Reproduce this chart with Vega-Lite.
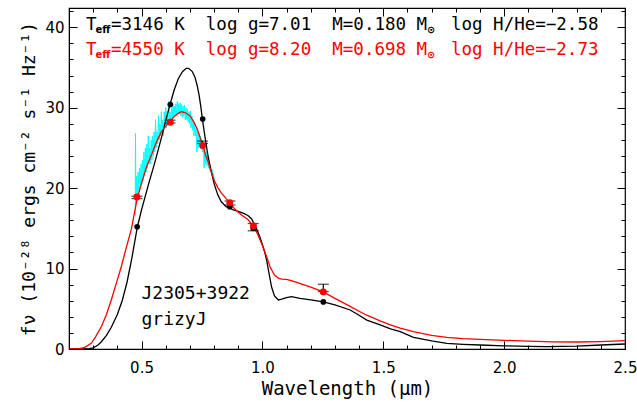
{
  "$schema": "https://vega.github.io/schema/vega-lite/v6.json",
  "width": 556,
  "height": 341,
  "autosize": {"type": "none"},
  "padding": {"left": 69, "top": 8, "right": 12, "bottom": 53},
  "background": "white",
  "config": {
    "view": {"stroke": "black", "strokeWidth": 1.2},
    "axis": {"grid": false, "domainColor": "black", "tickColor": "black", "labelColor": "black", "titleColor": "black", "labelFont": "DejaVu Sans", "titleFont": "DejaVu Sans Mono", "labelFontSize": 14, "titleFontSize": 18, "titleFontWeight": "normal"}
  },
  "datasets": {
    "spec": [
      {"w":0.474,"f":16.6},{"w":0.475,"f":26.8},{"w":0.477,"f":18.0},{"w":0.480,"f":21.5},{"w":0.483,"f":18.5},{"w":0.486,"f":22.0},{"w":0.489,"f":19.5},{"w":0.492,"f":22.5},{"w":0.495,"f":20.0},{"w":0.498,"f":23.0},
      {"w":0.501,"f":20.5},{"w":0.504,"f":23.5},{"w":0.507,"f":21.0},{"w":0.510,"f":24.5},{"w":0.513,"f":21.5},{"w":0.516,"f":25.0},{"w":0.519,"f":22.0},{"w":0.522,"f":25.5},{"w":0.525,"f":22.5},{"w":0.528,"f":26.5},
      {"w":0.531,"f":23.0},{"w":0.534,"f":25.0},{"w":0.537,"f":23.0},{"w":0.540,"f":26.0},{"w":0.543,"f":23.5},{"w":0.546,"f":26.5},{"w":0.549,"f":24.0},{"w":0.552,"f":27.0},{"w":0.555,"f":24.5},{"w":0.558,"f":28.5},
      {"w":0.561,"f":25.0},{"w":0.564,"f":27.0},{"w":0.567,"f":25.5},{"w":0.570,"f":29.0},{"w":0.573,"f":26.0},{"w":0.576,"f":28.0},{"w":0.579,"f":26.5},{"w":0.582,"f":29.5},{"w":0.585,"f":27.0},{"w":0.588,"f":28.5},
      {"w":0.591,"f":26.5},{"w":0.594,"f":29.5},{"w":0.597,"f":27.5},{"w":0.600,"f":30.0},{"w":0.603,"f":27.5},{"w":0.606,"f":29.5},{"w":0.609,"f":28.0},{"w":0.612,"f":30.8},{"w":0.615,"f":28.5},{"w":0.618,"f":29.5},
      {"w":0.621,"f":28.0},{"w":0.624,"f":30.0},{"w":0.627,"f":28.5},{"w":0.630,"f":30.5},{"w":0.633,"f":29.0},{"w":0.636,"f":30.2},{"w":0.639,"f":29.0},{"w":0.642,"f":30.5},{"w":0.645,"f":29.0},{"w":0.648,"f":30.8},
      {"w":0.651,"f":29.3},{"w":0.654,"f":30.5},{"w":0.657,"f":29.2},{"w":0.660,"f":30.6},{"w":0.663,"f":29.0},{"w":0.666,"f":30.4},{"w":0.669,"f":28.8},{"w":0.672,"f":30.2},{"w":0.675,"f":29.0},{"w":0.678,"f":30.3},
      {"w":0.681,"f":28.5},{"w":0.684,"f":30.0},{"w":0.687,"f":28.6},{"w":0.690,"f":29.8},{"w":0.693,"f":28.2},{"w":0.696,"f":29.5},{"w":0.699,"f":28.0},{"w":0.702,"f":29.6},{"w":0.705,"f":27.5},{"w":0.708,"f":29.0},
      {"w":0.711,"f":27.2},{"w":0.714,"f":28.5},{"w":0.717,"f":26.5},{"w":0.720,"f":28.0},{"w":0.723,"f":26.5},{"w":0.726,"f":27.5},{"w":0.729,"f":24.5},{"w":0.732,"f":27.0},{"w":0.735,"f":25.0},{"w":0.738,"f":26.8},
      {"w":0.741,"f":25.2},{"w":0.744,"f":26.5},{"w":0.747,"f":24.8},{"w":0.750,"f":26.0},{"w":0.753,"f":24.5},{"w":0.756,"f":25.5},{"w":0.759,"f":22.5},{"w":0.762,"f":25.0},{"w":0.765,"f":23.0},{"w":0.768,"f":24.5},
      {"w":0.771,"f":22.8},{"w":0.774,"f":24.0},{"w":0.777,"f":22.5},{"w":0.780,"f":23.3},{"w":0.783,"f":22.2},{"w":0.786,"f":22.8},{"w":0.789,"f":21.8},{"w":0.792,"f":22.3},{"w":0.795,"f":21.5},{"w":0.798,"f":21.8},
      {"w":0.801,"f":21.0},{"w":0.804,"f":21.2}
    ],
    "black": [
      {"w":0.20,"f":0},{"w":0.25,"f":0},{"w":0.28,"f":0.02},{"w":0.30,"f":0.15},{"w":0.32,"f":0.5},{"w":0.334,"f":0.9},{"w":0.355,"f":1.7},{"w":0.375,"f":2.7},{"w":0.40,"f":4.3},{"w":0.42,"f":6.0},
      {"w":0.44,"f":8.3},{"w":0.46,"f":11.3},{"w":0.483,"f":15.2},{"w":0.50,"f":17.3},{"w":0.53,"f":20.6},{"w":0.556,"f":23.3},{"w":0.58,"f":26.0},{"w":0.60,"f":28.4},{"w":0.618,"f":30.4},{"w":0.635,"f":32.2},
      {"w":0.652,"f":33.6},{"w":0.67,"f":34.5},{"w":0.685,"f":34.9},{"w":0.695,"f":34.9},{"w":0.71,"f":34.5},{"w":0.721,"f":33.8},{"w":0.73,"f":32.8},{"w":0.738,"f":31.6},{"w":0.745,"f":30.2},{"w":0.751,"f":28.8},
      {"w":0.757,"f":27.5},{"w":0.763,"f":26.3},{"w":0.775,"f":24.0},{"w":0.789,"f":22.0},{"w":0.80,"f":20.6},{"w":0.815,"f":19.2},{"w":0.83,"f":18.3},{"w":0.85,"f":17.7},{"w":0.865,"f":17.5},{"w":0.88,"f":17.3},
      {"w":0.90,"f":17.1},{"w":0.92,"f":16.9},{"w":0.94,"f":16.6},{"w":0.955,"f":16.2},{"w":0.965,"f":15.6},{"w":0.975,"f":15.0},{"w":0.99,"f":13.9},{"w":1.00,"f":13.0},{"w":1.01,"f":12.0},{"w":1.018,"f":11.0},
      {"w":1.028,"f":9.3},{"w":1.038,"f":7.7},{"w":1.05,"f":6.6},{"w":1.066,"f":6.1},{"w":1.08,"f":6.2},{"w":1.10,"f":6.4},{"w":1.12,"f":6.5},{"w":1.156,"f":6.3},{"w":1.20,"f":6.1},{"w":1.252,"f":5.85},
      {"w":1.30,"f":5.5},{"w":1.363,"f":4.85},{"w":1.40,"f":4.2},{"w":1.432,"f":3.6},{"w":1.487,"f":3.0},{"w":1.53,"f":2.5},{"w":1.57,"f":2.15},{"w":1.625,"f":1.45},{"w":1.70,"f":1.0},{"w":1.763,"f":0.7},
      {"w":1.83,"f":0.58},{"w":1.90,"f":0.5},{"w":2.0,"f":0.4},{"w":2.1,"f":0.32},{"w":2.176,"f":0.29},{"w":2.3,"f":0.35},{"w":2.4,"f":0.5},{"w":2.5,"f":0.62}
    ],
    "red": [
      {"w":0.20,"f":0},{"w":0.24,"f":0},{"w":0.265,"f":0.2},{"w":0.292,"f":0.7},{"w":0.31,"f":1.5},{"w":0.334,"f":2.8},{"w":0.355,"f":4.3},{"w":0.375,"f":6.1},{"w":0.395,"f":8.1},{"w":0.416,"f":10.2},
      {"w":0.437,"f":12.6},{"w":0.458,"f":14.9},{"w":0.482,"f":18.7},{"w":0.50,"f":20.6},{"w":0.52,"f":22.6},{"w":0.542,"f":24.2},{"w":0.56,"f":25.6},{"w":0.58,"f":26.9},{"w":0.60,"f":27.7},{"w":0.618,"f":28.3},
      {"w":0.635,"f":28.9},{"w":0.652,"f":29.3},{"w":0.665,"f":29.5},{"w":0.68,"f":29.4},{"w":0.70,"f":29.0},{"w":0.715,"f":28.3},{"w":0.73,"f":27.4},{"w":0.74,"f":26.5},{"w":0.753,"f":25.4},{"w":0.765,"f":24.1},
      {"w":0.775,"f":23.3},{"w":0.789,"f":22.0},{"w":0.80,"f":21.0},{"w":0.815,"f":20.1},{"w":0.83,"f":19.4},{"w":0.85,"f":18.7},{"w":0.866,"f":18.2},{"w":0.88,"f":17.6},{"w":0.90,"f":17.0},{"w":0.921,"f":16.5},
      {"w":0.94,"f":16.1},{"w":0.962,"f":15.3},{"w":0.98,"f":14.3},{"w":0.997,"f":13.1},{"w":1.015,"f":11.7},{"w":1.032,"f":10.2},{"w":1.05,"f":9.2},{"w":1.066,"f":8.8},{"w":1.08,"f":8.7},{"w":1.10,"f":8.65},
      {"w":1.13,"f":8.4},{"w":1.16,"f":8.1},{"w":1.20,"f":7.7},{"w":1.252,"f":7.1},{"w":1.30,"f":6.3},{"w":1.363,"f":5.3},{"w":1.40,"f":4.7},{"w":1.432,"f":4.2},{"w":1.487,"f":3.5},{"w":1.53,"f":3.0},
      {"w":1.57,"f":2.6},{"w":1.625,"f":2.15},{"w":1.70,"f":1.7},{"w":1.763,"f":1.45},{"w":1.83,"f":1.3},{"w":1.90,"f":1.2},{"w":2.0,"f":1.08},{"w":2.1,"f":0.97},{"w":2.2,"f":0.88},{"w":2.3,"f":0.87},
      {"w":2.4,"f":0.92},{"w":2.5,"f":1.03}
    ],
    "obs": [
      {"w":0.481,"lo":18.7,"hi":19.0},
      {"w":0.618,"lo":28.1,"hi":28.45},
      {"w":0.752,"lo":25.55,"hi":25.85},
      {"w":0.866,"lo":17.9,"hi":18.4},
      {"w":0.962,"lo":14.7,"hi":15.6},
      {"w":1.252,"lo":7.15,"hi":8.05}
    ],
    "synthBlack": [
      {"w":0.482,"f":15.2},{"w":0.619,"f":30.4},{"w":0.753,"f":28.6},{"w":0.865,"f":17.7},{"w":0.962,"f":15.0},{"w":1.252,"f":5.85}
    ],
    "synthRed": [
      {"w":0.481,"f":18.9},{"w":0.619,"f":28.2},{"w":0.753,"f":25.3},{"w":0.865,"f":18.2},{"w":0.963,"f":15.3},{"w":1.252,"f":7.1}
    ],
    "notes": [
      {"w":0.2703,"f":40.3,"t":"T","g":"kMain"},
      {"w":0.3096,"f":40.3,"t":"eff","g":"kSub"},
      {"w":0.3738,"f":40.3,"t":"=3146 K\u00a0\u00a0log g=7.01\u00a0\u00a0M=0.180 M","g":"kMain"},
      {"w":1.681,"f":40.3,"t":"⊙","g":"kSub"},
      {"w":1.780,"f":40.3,"t":"log H/He=−2.58","g":"kMain"},
      {"w":0.2703,"f":37.2,"t":"T","g":"rMain"},
      {"w":0.3096,"f":37.2,"t":"eff","g":"rSub"},
      {"w":0.3738,"f":37.2,"t":"=4550 K\u00a0\u00a0log g=8.20\u00a0\u00a0M=0.698 M","g":"rMain"},
      {"w":1.681,"f":37.2,"t":"⊙","g":"rSub"},
      {"w":1.780,"f":37.2,"t":"log H/He=−2.73","g":"rMain"},
      {"w":0.5,"f":6.9,"t":"J2305+3922","g":"name"},
      {"w":0.5,"f":3.6,"t":"grizyJ","g":"name"}
    ]
  },
  "resolve": {"axis": {"x": "independent", "y": "independent"}},
  "layer": [
    {
      "data": {"name": "spec"},
      "mark": {"type": "line", "color": "#00ffff", "strokeWidth": 1, "clip": true},
      "encoding": {
        "x": {"field": "w", "type": "quantitative", "scale": {"domain": [0.2, 2.5], "nice": false, "zero": false},
              "axis": {"orient": "bottom", "values": [0.5, 1.0, 1.5, 2.0, 2.5], "format": ".1f", "tickSize": -8, "labelPadding": 19, "labelFontSize": 15, "domain": true, "title": "Wavelength (μm)", "titleFontSize": 19, "titlePadding": 4, "labelFlush": false}},
        "y": {"field": "f", "type": "quantitative", "scale": {"domain": [0, 42.4], "nice": false},
              "axis": {"orient": "left", "values": [0, 10, 20, 30, 40], "tickSize": -8, "labelPadding": 13, "labelFontSize": 15, "domain": true, "title": "fν (10⁻²⁸ ergs cm⁻² s⁻¹ Hz⁻¹)", "titlePadding": 6, "labelFlush": false}}
      }
    },
    {
      "data": {"name": "black"},
      "mark": {"type": "line", "color": "black", "strokeWidth": 1.3, "clip": true},
      "encoding": {
        "x": {"field": "w", "type": "quantitative", "axis": {"orient": "bottom", "values": [0.3,0.4,0.6,0.7,0.8,0.9,1.1,1.2,1.3,1.4,1.6,1.7,1.8,1.9,2.1,2.2,2.3,2.4], "tickSize": -4, "labels": false, "domain": false, "title": null}},
        "y": {"field": "f", "type": "quantitative", "axis": {"orient": "left", "values": [2,4,6,8,12,14,16,18,22,24,26,28,32,34,36,38,42], "tickSize": -4, "labels": false, "domain": false, "title": null}}
      }
    },
    {
      "data": {"name": "red"},
      "mark": {"type": "line", "color": "#ff0000", "strokeWidth": 1.3, "clip": true},
      "encoding": {
        "x": {"field": "w", "type": "quantitative", "axis": {"orient": "top", "values": [0.5, 1.0, 1.5, 2.0, 2.5], "tickSize": -8, "labels": false, "domain": false, "title": null}},
        "y": {"field": "f", "type": "quantitative", "axis": {"orient": "right", "values": [0, 10, 20, 30, 40], "tickSize": -8, "labels": false, "domain": false, "title": null}}
      }
    },
    {
      "data": {"name": "obs"},
      "mark": {"type": "rule", "color": "black", "strokeWidth": 1.2},
      "encoding": {
        "x": {"field": "w", "type": "quantitative", "axis": {"orient": "top", "values": [0.3,0.4,0.6,0.7,0.8,0.9,1.1,1.2,1.3,1.4,1.6,1.7,1.8,1.9,2.1,2.2,2.3,2.4], "tickSize": -4, "labels": false, "domain": false, "title": null}},
        "y": {"field": "lo", "type": "quantitative", "axis": {"orient": "right", "values": [2,4,6,8,12,14,16,18,22,24,26,28,32,34,36,38,42], "tickSize": -4, "labels": false, "domain": false, "title": null}},
        "y2": {"field": "hi"}
      }
    },
    {
      "data": {"name": "obs"},
      "mark": {"type": "tick", "orient": "horizontal", "color": "black", "size": 11, "thickness": 1.2},
      "encoding": {
        "x": {"field": "w", "type": "quantitative", "axis": null},
        "y": {"field": "lo", "type": "quantitative", "axis": null}
      }
    },
    {
      "data": {"name": "obs"},
      "mark": {"type": "tick", "orient": "horizontal", "color": "black", "size": 11, "thickness": 1.2},
      "encoding": {
        "x": {"field": "w", "type": "quantitative", "axis": null},
        "y": {"field": "hi", "type": "quantitative", "axis": null}
      }
    },
    {
      "data": {"name": "synthBlack"},
      "mark": {"type": "point", "filled": true, "color": "black", "size": 32, "opacity": 1},
      "encoding": {
        "x": {"field": "w", "type": "quantitative", "axis": null},
        "y": {"field": "f", "type": "quantitative", "axis": null}
      }
    },
    {
      "data": {"name": "synthRed"},
      "mark": {"type": "point", "filled": true, "color": "#ff0000", "size": 48, "opacity": 1},
      "encoding": {
        "x": {"field": "w", "type": "quantitative", "axis": null},
        "y": {"field": "f", "type": "quantitative", "axis": null}
      }
    },
    {
      "data": {"name": "notes"},
      "transform": [{"filter": "datum.g == 'kMain'"}],
      "mark": {"type": "text", "align": "left", "baseline": "middle", "font": "DejaVu Sans Mono", "fontSize": 17.5, "color": "black"},
      "encoding": {
        "x": {"field": "w", "type": "quantitative", "axis": null},
        "y": {"field": "f", "type": "quantitative", "axis": null},
        "text": {"field": "t"}
      }
    },
    {
      "data": {"name": "notes"},
      "transform": [{"filter": "datum.g == 'kSub'"}],
      "mark": {"type": "text", "align": "left", "baseline": "middle", "font": "DejaVu Sans", "fontSize": 10, "fontWeight": "bold", "dy": 5, "color": "black"},
      "encoding": {
        "x": {"field": "w", "type": "quantitative", "axis": null},
        "y": {"field": "f", "type": "quantitative", "axis": null},
        "text": {"field": "t"}
      }
    },
    {
      "data": {"name": "notes"},
      "transform": [{"filter": "datum.g == 'rMain'"}],
      "mark": {"type": "text", "align": "left", "baseline": "middle", "font": "DejaVu Sans Mono", "fontSize": 17.5, "color": "#ff0000"},
      "encoding": {
        "x": {"field": "w", "type": "quantitative", "axis": null},
        "y": {"field": "f", "type": "quantitative", "axis": null},
        "text": {"field": "t"}
      }
    },
    {
      "data": {"name": "notes"},
      "transform": [{"filter": "datum.g == 'rSub'"}],
      "mark": {"type": "text", "align": "left", "baseline": "middle", "font": "DejaVu Sans", "fontSize": 10, "fontWeight": "bold", "dy": 5, "color": "#ff0000"},
      "encoding": {
        "x": {"field": "w", "type": "quantitative", "axis": null},
        "y": {"field": "f", "type": "quantitative", "axis": null},
        "text": {"field": "t"}
      }
    },
    {
      "data": {"name": "notes"},
      "transform": [{"filter": "datum.g == 'name'"}],
      "mark": {"type": "text", "align": "left", "baseline": "middle", "font": "DejaVu Sans Mono", "fontSize": 18, "color": "black"},
      "encoding": {
        "x": {"field": "w", "type": "quantitative", "axis": null},
        "y": {"field": "f", "type": "quantitative", "axis": null},
        "text": {"field": "t"}
      }
    }
  ]
}
